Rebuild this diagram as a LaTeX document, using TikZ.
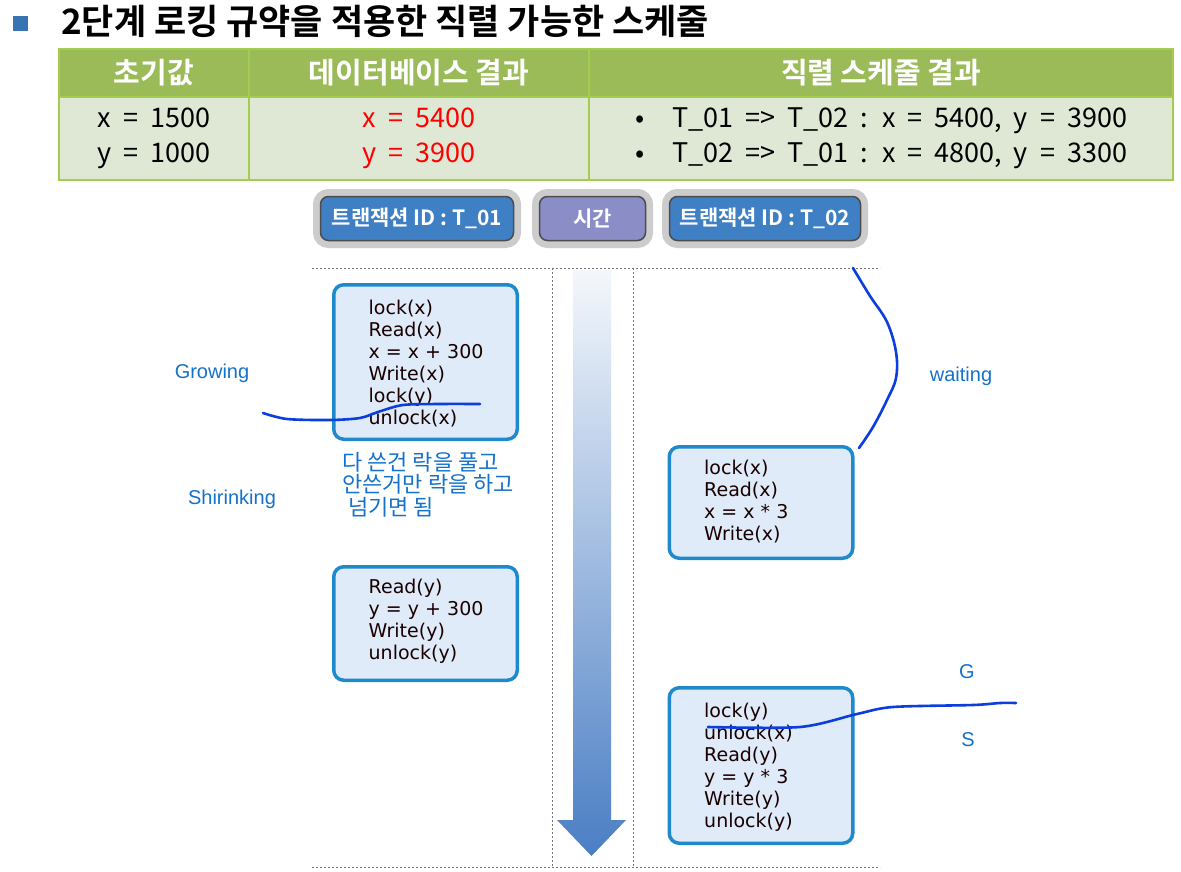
\documentclass[tikz,border=0pt]{standalone}
\usepackage{fontspec}
\setmainfont{Noto Sans CJK KR}[BoldFont={Noto Sans CJK KR Bold}]
\newfontfamily\arialf{Liberation Sans}
\newfontfamily\codigo{DejaVu Sans}
\newcommand\tablafont{\fontsize{27}{35}\selectfont\spaceskip 12pt\relax}
\usetikzlibrary{positioning, calc}
\definecolor{cabeza}{HTML}{9BBB59}
\definecolor{cuerpo}{HTML}{DFE8D4}
\definecolor{rejilla}{HTML}{A2CD4E}
\definecolor{pildora}{HTML}{3F80C5}
\definecolor{lila}{HTML}{8A8DC6}
\definecolor{borde}{HTML}{1F8ACB}
\definecolor{relleno}{HTML}{DFEBF8}
\definecolor{apunte}{HTML}{1472CC}
\definecolor{pluma}{HTML}{0B3EDD}
\definecolor{flecha}{HTML}{4A7EC4}
\tikzset{
  encab/.style={rectangle, draw=rejilla, line width=2pt, fill=cabeza, minimum height=48pt,
                text=white, font=\fontsize{29}{32}\selectfont\bfseries, inner sep=0pt},
  celda/.style={rectangle, draw=rejilla, line width=2pt, fill=cuerpo, minimum height=83pt,
                font=\tablafont, align=center, inner sep=0pt},
  pill/.style={rectangle, rounded corners=8pt, draw=black!70, line width=1.5pt, fill=pildora,
               minimum height=44pt, text=white, font=\fontsize{21}{24}\selectfont\bfseries,
               preaction={draw=black!20, line width=15pt}},
  caja/.style={rectangle, rounded corners=10pt, draw=borde, line width=3.5pt, fill=relleno,
               minimum width=183.5pt},
  codigo/.style={anchor=west, align=left, inner sep=0pt, text=black!90!red,
                 font=\codigo\fontsize{19}{22}\selectfont},
  nota/.style={text=apunte, font=\arialf\fontsize{20}{22.5}\selectfont, inner sep=0pt},
  punteo/.style={draw=black!55, line width=1pt, dash pattern=on 2pt off 2pt},
  trazo/.style={draw=pluma, line width=2.6pt, line cap=round, line join=round}
}
\begin{document}
\begin{tikzpicture}[x=1pt, y=-1pt]
  \useasboundingbox [fill=white] (0,0) rectangle (1181,872);
  % titulo
  \fill [pildora!90!black] (13,16) rectangle (28,31);
  \node (titulo) [anchor=west, inner sep=0pt, font=\fontsize{35}{38}\selectfont\bfseries] at (61,21) {2단계 로킹 규약을 적용한 직렬 가능한 스케줄};
  % tabla
  \node (hini) [encab, minimum width=190pt] at (154,73) {초기값};
  \node (hbd) [encab, minimum width=340pt] at (419,73) {데이터베이스 결과};
  \node (hser) [encab, minimum width=584pt] at (881,73) {직렬 스케줄 결과};
  \node (cini) [celda, minimum width=190pt] at (154,138.5) {x = 1500\\y = 1000};
  \node (cbd) [celda, minimum width=340pt, text=red] at (419,138.5) {x = 5400\\y = 3900};
  \node (cser) [celda, minimum width=584pt] at (881,138.5) {};
  \node [font=\tablafont, align=left, inner sep=0pt] at (cser.center)
    {•\hspace{28pt}T\_01 => T\_02 : x = 5400, y = 3900\\•\hspace{28pt}T\_02 => T\_01 : x = 4800, y = 3300};
  % encabezados de transacciones
  \node (tuno) [pill, minimum width=193pt] at (417,218.5) {트랜잭션 ID : T\_01};
  \node (tiempo) [pill, minimum width=106pt, fill=lila] at (592.5,218.5) {시간};
  \node (tdos) [pill, minimum width=191pt] at (765,218.5) {트랜잭션 ID : T\_02};
  % lineas punteadas
  \draw [punteo] (312,268) -- (880,268);
  \draw [punteo] (312,867) -- (880,867);
  \draw [punteo] (552,268) -- (552,867);
  \draw [punteo] (633,268) -- (633,867);
  % flecha del tiempo
  \shade [top color=flecha!6, bottom color=flecha] (573,270) -- (611,270) -- (611,820) -- (626,820)
    -- (591.5,856) -- (557,820) -- (573,820) -- cycle;
  % operaciones
  \node (auno) [caja, minimum height=154.5pt] at (425.5,362) {};
  \node [codigo] at ($(auno.west)+(36.5,2)$) {lock(x)\\Read(x)\\x = x + 300\\Write(x)\\lock(y)\\unlock(x)};
  \node (ados) [caja, minimum height=113.5pt] at (425.5,623.5) {};
  \node [codigo] at ($(ados.west)+(36.5,-2)$) {Read(y)\\y = y + 300\\Write(y)\\unlock(y)};
  \node (buno) [caja, minimum height=111.5pt] at (761,502.5) {};
  \node [codigo] at ($(buno.west)+(36.5,-1)$) {lock(x)\\Read(x)\\x = x * 3\\Write(x)};
  \node (bdos) [caja, minimum height=155.5pt] at (761,765.5) {};
  \node [codigo] at ($(bdos.west)+(36.5,1.5)$) {lock(y)\\unlock(x)\\Read(y)\\y = y * 3\\Write(y)\\unlock(y)};
  % apuntes
  \node (grow) [nota] at (212,373) {Growing};
  \node (shri) [nota] at (232,499) {Shirinking};
  \node (wait) [nota] at (961,376) {waiting};
  \node (letg) [nota] at (967,672) {G};
  \node (lets) [nota] at (968,740) {S};
  \node (explica) [nota, font=\fontsize{22}{22.5}\selectfont, anchor=north west, align=left] at (342,452)
    {다 쓴건 락을 풀고\\안쓴거만 락을 하고\\\hspace{6pt}넘기면 됨};
  % trazos a mano
  \draw [trazo] plot[smooth, tension=0.5] coordinates {(263,413) (287,419) (330,420) (360,418) (378,412) (403,405) (440,404) (480,404)};
  \draw [trazo] plot[smooth, tension=0.6] coordinates {(853,268) (870,296) (887,322) (896,352) (896,378) (887,400) (873,427) (859,448)};
  \draw [trazo] plot[smooth, tension=0.5] coordinates {(708,727) (800,727) (857,714) (893,707) (973,705) (1000,703) (1016,703)};
\end{tikzpicture}
\end{document}
